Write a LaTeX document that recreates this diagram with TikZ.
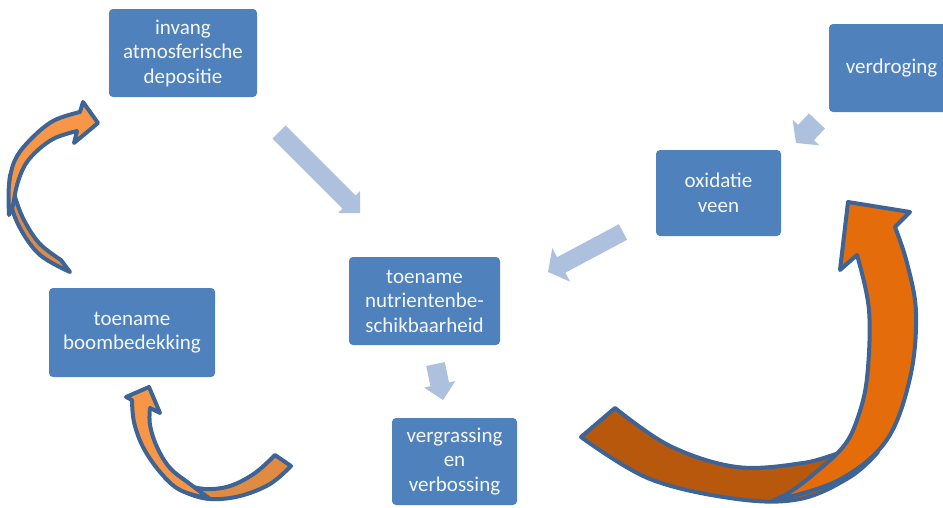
\documentclass[tikz,border=0pt]{standalone}
\usepackage{fontspec}
\setmainfont{Carlito}
\usetikzlibrary{calc}
\definecolor{boxblue}{HTML}{4F81BD}
\definecolor{lightarrow}{HTML}{ADC1DF}
\definecolor{outl}{HTML}{3D6494}
\definecolor{orfront}{HTML}{E46C0A}
\definecolor{orback}{HTML}{B8580C}
\definecolor{lorfront}{HTML}{F79646}
\definecolor{lorback}{HTML}{E08A42}
\definecolor{txt}{HTML}{F4F7FB}
\newcommand\blockarrow[5]{%
  \coordinate (bh) at ($(#2)!#5!(#1)$);
  \fill[lightarrow] ($(#1)!#3!90:(#2)$) -- ($(bh)!#3!90:(#2)$) -- ($(bh)!#4!90:(#2)$)
    -- (#2) -- ($(bh)!#4!-90:(#2)$) -- ($(bh)!#3!-90:(#2)$) -- ($(#1)!#3!-90:(#2)$) -- cycle;}
\tikzset{
  box/.style={rectangle, rounded corners=4pt, fill=boxblue, text=txt, align=center,
    font=\fontsize{21}{24.5}\selectfont, inner sep=0pt},
  curvefront/.style={fill=#1, draw=outl, line width=4pt, line join=round},
  curveback/.style={fill=#1, draw=outl, line width=4pt, line join=round}
}
\begin{document}
\begin{tikzpicture}[x=1pt,y=-1pt]
\useasboundingbox (0,0) rectangle (943,507);
\clip (0,0) rectangle (943,507);

% boxes
\node[box, minimum width=148pt, minimum height=88pt] (dep) at (183,53) {invang\\atmosferische\\depositie};
\node[box, minimum width=125pt, minimum height=88pt] (dro) at (891.5,68) {verdroging};
\node[box, minimum width=125pt, minimum height=86pt] (oxi) at (718.5,193) {oxidatie\\veen};
\node[box, minimum width=151pt, minimum height=88pt] (nut) at (424.5,301) {toename\\nutrientenbe-\\schikbaarheid};
\node[box, minimum width=166pt, minimum height=89pt] (boom) at (132,332.5) {toename\\boombedekking};
\node[box, minimum width=125pt, minimum height=87pt] (verg) at (454.5,461.5) {vergrassing\\en\\verbossing};

% light block arrows
\coordinate (a1s) at (279,132); \coordinate (a1e) at (360,213);
\coordinate (a2s) at (623,232); \coordinate (a2e) at (548,272);
\coordinate (a3s) at (817,121); \coordinate (a3e) at (796,143);
\coordinate (a4s) at (435.5,364); \coordinate (a4e) at (443,400);
\blockarrow{a1s}{a1e}{9.2pt}{15.5pt}{15.5pt}
\blockarrow{a2s}{a2e}{8.8pt}{19pt}{15pt}
\blockarrow{a3s}{a3e}{11pt}{18.5pt}{14.5pt}
\blockarrow{a4s}{a4e}{9.5pt}{16pt}{16pt}

% big curved arrow (right)
\path[curveback=orback]
  plot[smooth, tension=0.6] coordinates {(581,437) (650,479) (737,499) (800,499) (850,477) (878,452)}
  -- plot[smooth, tension=0.6] coordinates {(878,452) (845,452) (803,463) (737,467) (670,446) (615,408)}
  -- cycle;
\path[curvefront=orfront]
  plot[smooth, tension=0.6] coordinates {(772,501) (837,481) (886,441) (910,378) (916,313) (907,263) (895,227)}
  -- (910,212) -- (848,202) -- (840,270) -- (857,255)
  -- plot[smooth, tension=0.6] coordinates {(857,255) (869,310) (867,378) (857,420) (843,447) (815,473) (790,492) (772,501)}
  -- cycle;

% top-left curved arrow
\path[curveback=lorback]
  plot[smooth, tension=0.6] coordinates {(70,272) (40,255) (20,228) (10,200) (10,175)}
  -- plot[smooth, tension=0.6] coordinates {(10,175) (16,200) (25,222) (40,244) (61,260)}
  -- cycle;
\path[curvefront=lorfront]
  plot[smooth, tension=0.6] coordinates {(9,215) (9,185) (15,160) (30,140) (53,121) (80,112)}
  -- (83,102) -- (98,123) -- (74,143) -- (77,131)
  -- plot[smooth, tension=0.6] coordinates {(77,131) (55,138) (38,150) (25,165) (17,185) (13,205) (9,215)}
  -- cycle;

% bottom-left curved arrow
\path[curveback=lorback]
  plot[smooth, tension=0.6] coordinates {(291,466) (270,484) (240,496) (210,499) (185,492) (165,478)}
  -- plot[smooth, tension=0.6] coordinates {(165,478) (183,484) (205,489) (230,486) (255,473) (275,455)}
  -- cycle;
\path[curvefront=lorfront]
  plot[smooth, tension=0.6] coordinates {(210,499) (180,490) (160,472) (143,447) (134,422) (132,400)}
  -- (126,397) -- (149,387) -- (160,413) -- (150,408)
  -- plot[smooth, tension=0.6] coordinates {(150,408) (150,425) (157,447) (170,468) (190,484) (210,499)}
  -- cycle;
\end{tikzpicture}
\end{document}
